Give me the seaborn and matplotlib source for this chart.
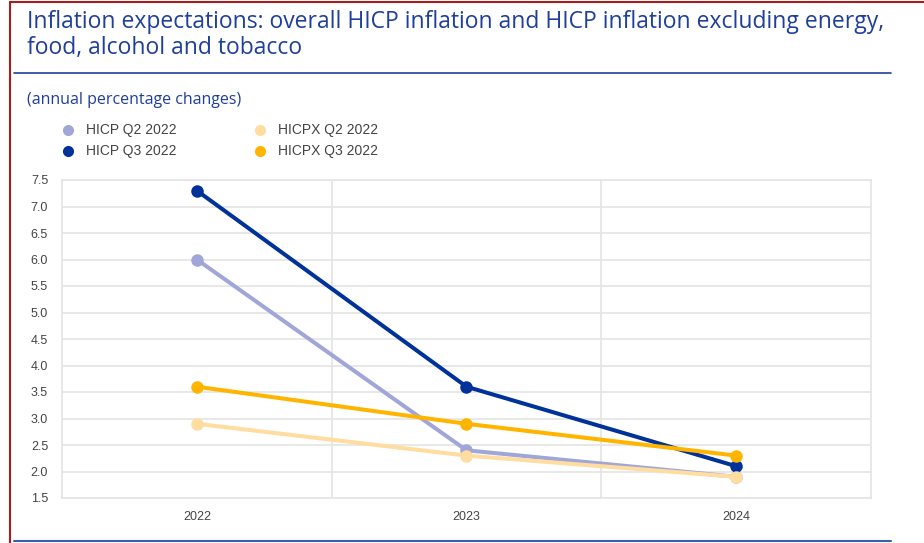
import pandas as pd
import matplotlib.pyplot as plt
import seaborn as sns
from matplotlib.lines import Line2D

# Datos
years = ['2022', '2023', '2024']
hicp_q2 = [6.0, 2.4, 1.9]
hicp_q3 = [7.3, 3.6, 2.1]
hicpx_q2 = [2.9, 2.3, 1.9]
hicpx_q3 = [3.6, 2.9, 2.3]

series = ['HICP Q2 2022', 'HICP Q3 2022', 'HICPX Q2 2022', 'HICPX Q3 2022']
colores = ['#a1a6d8', '#003299', '#ffdca0', '#ffb400']

df = pd.DataFrame({
    'year': years * 4,
    'value': hicp_q2 + hicp_q3 + hicpx_q2 + hicpx_q3,
    'serie': [s for s in series for _ in years],
})

sns.set_style('white')
plt.rcParams['font.family'] = ['Liberation Sans', 'DejaVu Sans']

fig = plt.figure(figsize=(9.24, 5.43), dpi=100)
ax = fig.add_axes([62/924, 1-498/543, (871-62)/924, (498-180)/543])

sns.lineplot(data=df, x='year', y='value', hue='serie', palette=colores,
             hue_order=series, marker='o', markersize=9, markeredgewidth=0,
             linewidth=2.9, sort=False, ax=ax, legend=False)

ax.set_xlim(-0.5, 2.5)
ax.set_ylim(1.5, 7.5)
ax.set_yticks([1.5 + 0.5*i for i in range(13)])
ax.set_yticklabels([f'{1.5 + 0.5*i:.1f}' for i in range(13)])
ax.set_xticks([0.5, 1.5], minor=True)
ax.grid(axis='y', color='#e4e4e4', linewidth=1.2)
ax.grid(axis='x', which='minor', color='#e4e4e4', linewidth=1.2)
ax.grid(axis='x', which='major', visible=False)
ax.tick_params(axis='both', which='both', length=0, labelsize=9, labelcolor='#444444')
ax.tick_params(axis='y', pad=10)
ax.tick_params(axis='x', pad=9)
ax.set_xlabel('')
ax.set_ylabel('')
for sp in ax.spines.values():
    sp.set_color('#e4e4e4')
    sp.set_linewidth(1.2)

# Titulo y subtitulo
fig.text(27/924, 1-22/543, 'Inflation expectations: overall HICP inflation and HICP inflation excluding energy,',
         fontsize=16.5, color='#1f3f9c', family='Open Sans', va='center')
fig.text(27/924, 1-48/543, 'food, alcohol and tobacco',
         fontsize=16.5, color='#1f3f9c', family='Open Sans', va='center')
fig.add_artist(Line2D([14/924, 891/924], [1-73/543, 1-73/543], color='#1f3f9c', linewidth=1.2))
fig.text(27/924, 1-100/543, '(annual percentage changes)', fontsize=11.5, color='#1f3f9c',
         family='Open Sans', va='center')
fig.add_artist(Line2D([14/924, 891/924], [1-541/543, 1-541/543], color='#3a5fb0', linewidth=1.5))

# Borde rojo
fig.add_artist(Line2D([9.5/924, 9.5/924], [0, 1-2/543], color='#a81c1c', linewidth=1.5))
fig.add_artist(Line2D([9.5/924, 1], [1-2/543, 1-2/543], color='#a81c1c', linewidth=1.5))

# Leyenda manual
pos = [(68, 130), (68, 151), (260, 130), (260, 151)]
for (x, y), s, c in zip(pos, series, colores):
    fig.add_artist(Line2D([x/924], [1-y/543], marker='o', markersize=8, color=c, markeredgewidth=0))
    fig.text((x+18)/924, 1-y/543, s, fontsize=10, color='#444444', va='center')

fig.savefig('out.png', dpi=100)
